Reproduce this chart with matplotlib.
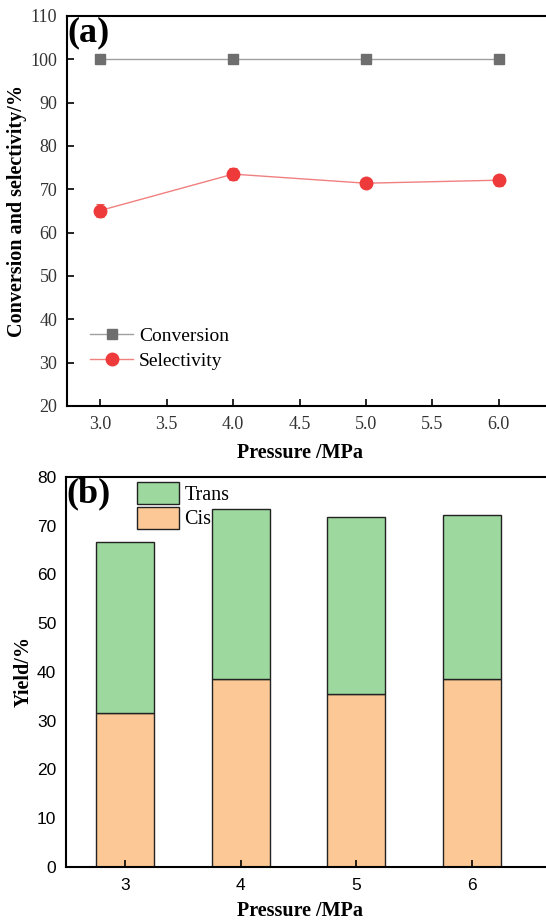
import matplotlib.pyplot as plt

# Panel (a): conversion and selectivity vs pressure
pressure = [3.0, 4.0, 5.0, 6.0]
conversion = [100, 100, 100, 100]
selectivity = [65.1, 73.5, 71.4, 72.1]
selectivity_err = [1.4, 1.4, 0.9, 1.3]

# Panel (b): stacked yield bars
pressure_b = [3, 4, 5, 6]
cis = [31.5, 38.6, 35.5, 38.5]
trans = [35.1, 34.8, 36.2, 33.7]

serif = "Liberation Serif"
sans = "Liberation Sans"

fig = plt.figure(figsize=(5.46, 9.22), dpi=100)

# --- Panel (a) ---
ax = fig.add_axes([0.1227, 0.5597, 0.932, 0.4230])
ax.plot(pressure, conversion, color="#a0a0a0", linewidth=1.0, marker="s",
        markersize=7, markerfacecolor="#6e6e6e", markeredgecolor="#6e6e6e",
        label="Conversion", zorder=3)
ax.errorbar(pressure, selectivity, yerr=selectivity_err, fmt="none",
            ecolor="#ee5a5a", elinewidth=0.8, capsize=3, capthick=0.8,
            zorder=3)
ax.plot(pressure, selectivity, color="#f08080", linewidth=1.0, marker="o",
        markersize=9, markerfacecolor="#ee3a3a", markeredgecolor="#ee3a3a",
        label="Selectivity", zorder=4)
ax.set_xlim(2.75, 6.58)
ax.set_ylim(20, 110)
ax.set_xticks([3.0, 3.5, 4.0, 4.5, 5.0, 5.5, 6.0])
ax.set_xticklabels(["3.0", "3.5", "4.0", "4.5", "5.0", "5.5", "6.0"],
                   family=serif, fontsize=13, color="#333333")
ax.set_yticks(range(20, 111, 10))
ax.set_yticklabels([str(v) for v in range(20, 111, 10)],
                   family=serif, fontsize=13, color="#333333")
ax.tick_params(direction="in", length=5, width=1.2, pad=7)
for s in ax.spines.values():
    s.set_linewidth(1.5)
ax.set_xlabel("Pressure /MPa", family=serif, fontweight="bold", fontsize=14.5)
ax.xaxis.set_label_coords(0.458, -0.095)
ax.set_ylabel("Conversion and selectivity/%", family=serif, fontweight="bold",
              fontsize=14.5)
ax.yaxis.set_label_coords(-0.078, 0.5)
ax.text(0.0, 1.0, "(a)", transform=ax.transAxes, family=serif,
        fontweight="bold", fontsize=26, ha="left", va="top")
ax.legend(loc="upper left", bbox_to_anchor=(0.027, 0.226), frameon=False,
          prop={"family": serif, "size": 14}, handlelength=2.2,
          handletextpad=0.3, labelspacing=0.35, borderpad=0)

# --- Panel (b) ---
bx = fig.add_axes([0.1209, 0.0597, 0.932, 0.4230])
bx.bar(pressure_b, cis, width=0.5, color="#fbc896", edgecolor="#222222",
       linewidth=1.0, label="Cis", zorder=1)
bx.bar(pressure_b, trans, bottom=cis, width=0.5, color="#9dd89e",
       edgecolor="#222222", linewidth=1.0, label="Trans", zorder=1)
bx.set_xlim(2.49, 6.89)
bx.set_ylim(0, 80)
bx.set_xticks(pressure_b)
bx.set_xticklabels([str(v) for v in pressure_b], family=sans, fontsize=12.5)
bx.set_yticks(range(0, 81, 10))
bx.set_yticklabels([str(v) for v in range(0, 81, 10)], family=sans,
                   fontsize=12.5)
bx.tick_params(axis="x", direction="in", length=5, width=1.2, pad=8)
bx.tick_params(axis="y", length=0, pad=7)
for s in bx.spines.values():
    s.set_linewidth(1.5)
bx.set_xlabel("Pressure /MPa", family=serif, fontweight="bold", fontsize=14.5)
bx.xaxis.set_label_coords(0.46, -0.088)
bx.set_ylabel("Yield/%", family=serif, fontweight="bold", fontsize=14.5)
bx.yaxis.set_label_coords(-0.064, 0.5)
bx.text(0.0, 1.0, "(b)", transform=bx.transAxes, family=serif,
        fontweight="bold", fontsize=26, ha="left", va="top")
handles, labels = bx.get_legend_handles_labels()
bx.legend(handles[::-1], labels[::-1], loc="upper left",
          bbox_to_anchor=(0.12, 1.013), frameon=False,
          prop={"family": serif, "size": 14.5}, handlelength=2.1,
          handleheight=1.3, handletextpad=0.25, labelspacing=0.1,
          borderpad=0)

fig.savefig("out.png", dpi=100)
